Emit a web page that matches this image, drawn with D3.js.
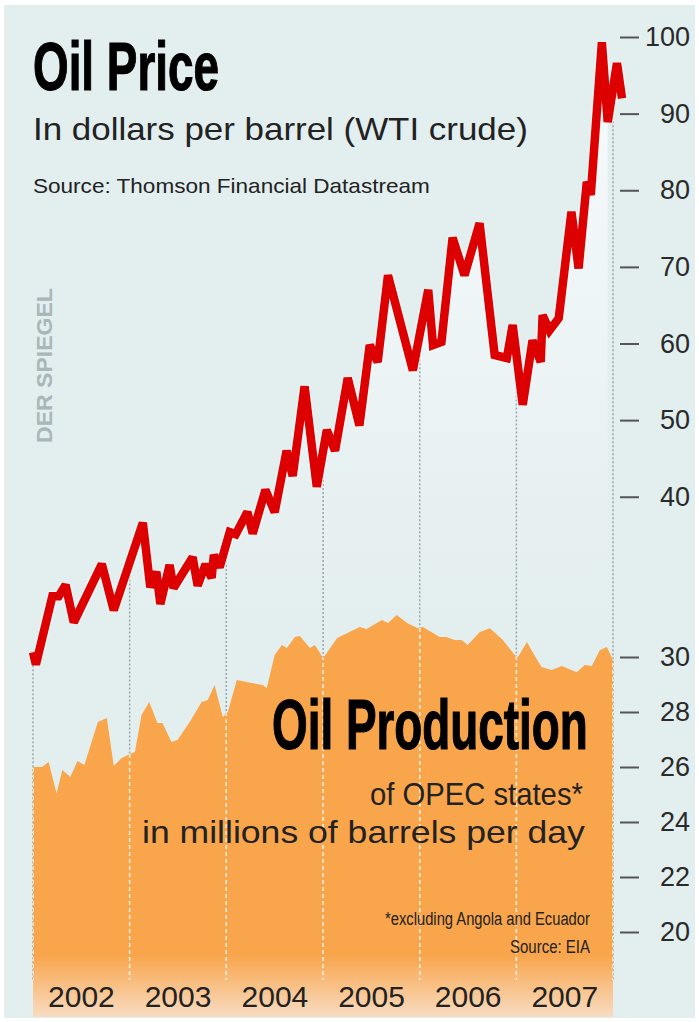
<!DOCTYPE html>
<html>
<head>
<meta charset="utf-8">
<script src="https://cdnjs.cloudflare.com/ajax/libs/d3/7.8.5/d3.min.js"></script>
<style>
  html, body { margin: 0; padding: 0; background: #fff; }
  svg { display: block; }
</style>
</head>
<body>
<svg id="chart" width="699" height="1022"></svg>
<script>

//	oil price, WTI crude, dollars per barrel
var priceDates = ["2002-01-01","2002-01-12","2002-03-15","2002-04-08","2002-05-04","2002-06-04","2002-09-18","2002-11-02",
  "2003-02-20","2003-03-20","2003-04-12","2003-04-27","2003-06-01","2003-06-16","2003-08-27","2003-09-15","2003-10-15","2003-11-07","2003-11-15","2003-12-07",
  "2004-01-14","2004-02-06","2004-03-21","2004-04-10","2004-05-28","2004-07-02","2004-08-16","2004-09-08","2004-10-23","2004-12-08",
  "2005-01-15","2005-02-15","2005-04-04","2005-05-18","2005-06-26","2005-07-26","2005-09-03","2005-12-06",
  "2006-02-02","2006-02-20","2006-03-24","2006-05-05","2006-06-19","2006-08-15","2006-10-11","2006-11-26","2006-12-18",
  "2007-01-25","2007-03-03","2007-04-03","2007-04-10","2007-05-06","2007-06-10","2007-07-28","2007-08-24","2007-09-24","2007-10-09","2007-11-20","2007-12-12",
  "2008-01-16","2008-02-04"];
var priceValues = [19.7,18.1,27.0,27.0,28.5,23.6,31.2,25.2,
  36.6,28.2,30.2,26.0,31.1,28.1,32.1,28.4,31.2,29.4,32.4,30.8,
  35.4,35.1,38.0,35.2,40.9,38.0,46.0,42.7,54.4,41.3,
  48.7,46.0,55.5,49.3,59.8,57.6,68.9,56.5,
  67.0,59.8,60.2,73.8,68.9,75.7,58.5,58.1,62.4,
  52.0,60.4,57.6,63.7,61.7,63.3,77.2,69.8,81.1,79.4,99.3,88.9,
  96.6,92.0];

//	OPEC production, millions of barrels per day
var prodDates = ["2002-01-01","2002-02-04","2002-03-01","2002-03-31","2002-04-22","2002-05-22","2002-06-18","2002-07-14","2002-09-03","2002-10-07","2002-11-02","2002-12-02",
  "2003-01-02","2003-01-21","2003-02-15","2003-03-16","2003-04-16","2003-05-05","2003-06-08","2003-07-01","2003-08-16","2003-09-30","2003-10-23","2003-11-18","2003-12-19",
  "2004-01-07","2004-02-10","2004-04-10","2004-05-17","2004-06-02","2004-07-02","2004-07-29","2004-08-17","2004-09-16","2004-10-05","2004-11-12","2004-12-01",
  "2005-01-01","2005-02-23","2005-05-19","2005-06-14","2005-08-11","2005-09-03","2005-10-06","2005-11-14","2005-12-25",
  "2006-01-13","2006-03-17","2006-04-12","2006-05-12","2006-06-08","2006-07-01","2006-08-16","2006-09-23","2006-11-11","2006-12-26",
  "2007-01-07","2007-02-10","2007-03-03","2007-04-06","2007-05-14","2007-06-21","2007-08-17","2007-09-16","2007-10-13","2007-11-12","2007-12-09",
  "2008-01-01"];
var prodValues = [26.0,26.0,26.18,25.05,25.89,25.64,26.22,26.07,27.64,27.78,26.04,26.33,
  26.47,26.55,27.89,28.36,27.6,27.6,26.91,26.98,27.64,28.36,28.44,28.98,27.82,
  28.0,29.16,29.05,28.98,28.87,30.07,30.44,30.33,30.73,30.76,30.33,30.44,
  29.96,30.69,31.09,31.02,31.35,31.24,31.53,31.24,31.05,
  31.09,30.73,30.73,30.62,30.62,30.44,30.91,31.05,30.62,30.07,
  30.0,30.55,30.18,29.64,29.53,29.67,29.45,29.71,29.67,30.25,30.36,
  29.89];

var priceTicks = [40, 50, 60, 70, 80, 90, 100];
var prodTicks = [20, 22, 24, 26, 28, 30];
var yearLabels = ["2002", "2003", "2004", "2005", "2006", "2007"];
var gridYears = ["2002", "2003", "2004", "2005", "2006", "2007", "2008"];

var parse = d3.timeParse("%Y-%m-%d");
var price = priceDates.map(function(d, i) { return {date: parse(d), value: priceValues[i]}; });
var prod = prodDates.map(function(d, i) { return {date: parse(d), value: prodValues[i]}; });

var narrow = "'Liberation Sans Narrow', 'Liberation Sans', Arial, sans-serif";
var plain = "'Liberation Sans', Arial, sans-serif";

const svg = d3.select("#chart"),
  bottom = 1017;

const x = d3.scaleTime()
  .domain([parse("2002-01-01"), parse("2008-01-01")])
  .range([33, 613]);
const yPrice = d3.scaleLinear().domain([20, 100]).range([650, 37]);
const yProd = d3.scaleLinear().domain([20, 30]).range([932, 657]);

//	gradients + clip
var defs = svg.append("defs");
var g1 = defs.append("linearGradient").attr("id", "under")
  .attr("gradientUnits", "userSpaceOnUse").attr("x1", 0).attr("y1", 40).attr("x2", 0).attr("y2", 620);
g1.append("stop").attr("offset", "0%").attr("stop-color", "#f7fbfc");
g1.append("stop").attr("offset", "100%").attr("stop-color", "#e3eeef");
var g2 = defs.append("linearGradient").attr("id", "orange")
  .attr("gradientUnits", "userSpaceOnUse").attr("x1", 0).attr("y1", 955).attr("x2", 0).attr("y2", bottom);
g2.append("stop").attr("offset", "0%").attr("stop-color", "#f9a54b");
g2.append("stop").attr("offset", "100%").attr("stop-color", "#f8dcc2");

var prodArea = d3.area()
  .x(d => x(d.date))
  .y0(bottom)
  .y1(d => yProd(d.value));
defs.append("clipPath").attr("id", "prodClip")
  .append("path").attr("d", prodArea(prod));

//	panel
svg.append("rect")
  .attr("x", 4).attr("y", 5)
  .attr("width", 691).attr("height", bottom - 4)
  .attr("fill", "#e3eeef");

//	light area under the price line
var priceArea = d3.area()
  .x(d => x(d.date))
  .y0(bottom)
  .y1(d => yPrice(d.value));
svg.append("path")
  .attr("d", priceArea(price.filter(d => d.date <= parse("2008-01-01"))))
  .attr("fill", "url(#under)");

//	interpolated price at a date, for the grid line tops
function priceAt(date) {
  var i = d3.bisector(d => d.date).left(price, date);
  if (i <= 0) return price[0].value;
  if (i >= price.length) return price[price.length - 1].value;
  var a = price[i - 1], b = price[i];
  var t = (date - a.date) / (b.date - a.date);
  return a.value + t * (b.value - a.value);
}

var grid = gridYears.map(y => parse(y + "-01-01"));

svg.append("g")
  .selectAll("line")
  .data(grid)
  .enter().append("line")
    .attr("x1", d => x(d)).attr("x2", d => x(d))
    .attr("y1", d => yPrice(priceAt(d)) + 5)
    .attr("y2", 980)
    .attr("stroke", "#9aa6a9")
    .attr("stroke-width", 1.5)
    .attr("stroke-dasharray", "2,2");

//	production area
svg.append("path")
  .attr("d", prodArea(prod))
  .attr("fill", "url(#orange)");

svg.append("g")
  .attr("clip-path", "url(#prodClip)")
  .selectAll("line")
  .data(grid)
  .enter().append("line")
    .attr("x1", d => x(d)).attr("x2", d => x(d))
    .attr("y1", 600)
    .attr("y2", 980)
    .attr("stroke", "#fff")
    .attr("stroke-opacity", 0.85)
    .attr("stroke-width", 1.5)
    .attr("stroke-dasharray", "4,3");

//	price line
var line = d3.line()
  .x(d => x(d.date))
  .y(d => yPrice(d.value));

svg.append("path")
  .attr("d", line(price))
  .attr("fill", "none")
  .attr("stroke", "#fff")
  .attr("stroke-opacity", 0.6)
  .attr("stroke-width", 11)
  .attr("stroke-linejoin", "miter")
  .attr("stroke-miterlimit", 2);

svg.append("path")
  .attr("d", line(price))
  .attr("fill", "none")
  .attr("stroke", "#dc0000")
  .attr("stroke-width", 8.5)
  .attr("stroke-linejoin", "miter")
  .attr("stroke-miterlimit", 2);

//	texts: drawn at natural size, then squeezed to the width seen in the chart
function label(txt, x0, y0, size, len, opts) {
  opts = opts || {};
  var t = svg.append("text")
    .attr("font-family", opts.family || narrow)
    .attr("font-size", size)
    .attr("font-weight", opts.weight || "normal")
    .attr("fill", opts.fill || "#1e1e1e")
    .text(txt);
  if (opts.stroke) t.attr("stroke", opts.fill || "#000").attr("stroke-width", opts.stroke);
  var w = t.node().getComputedTextLength();
  var rot = opts.rotate ? " rotate(" + opts.rotate + ")" : "";
  t.attr("transform", "translate(" + x0 + "," + y0 + ")" + rot + " scale(" + (len / w) + ",1)");
  return t;
}

label("Oil Price", 33, 90, 68, 186, {weight: "bold", fill: "#000", stroke: 1.2});
label("In dollars per barrel (WTI crude)", 33, 140, 32, 495, {family: plain, fill: "#222"});
label("Source: Thomson Financial Datastream", 33, 193, 21, 397, {fill: "#222"});

label("Oil Production", 272, 749, 70, 316, {weight: "bold", fill: "#000", stroke: 1.2});
label("of OPEC states*", 370, 805, 32, 213, {family: plain, fill: "#222"});
label("in millions of barrels per day", 142, 843, 32, 443, {family: plain, fill: "#222"});
label("*excluding Angola and Ecuador", 385, 925, 19, 205, {fill: "#222"});
label("Source: EIA", 510, 953, 19, 80, {fill: "#222"});

label("DER SPIEGEL", 52, 443, 22, 155, {weight: "bold", fill: "#a9b7ba", rotate: -90});

//	right axes
function rightAxis(scale, ticks) {
  var ax = svg.append("g")
    .attr("transform", "translate(620,0)")
    .call(d3.axisRight(scale).tickValues(ticks).tickSize(19).tickPadding(4));
  ax.select(".domain").remove();
  ax.selectAll(".tick line").attr("stroke", "#555").attr("stroke-width", 2);
  ax.selectAll(".tick text")
    .attr("x", 70)
    .attr("text-anchor", "end")
    .attr("font-family", plain)
    .attr("font-size", 27)
    .attr("fill", "#2a2a2a");
  return ax;
}
rightAxis(yPrice, priceTicks);
rightAxis(yProd, prodTicks);

//	year labels, centred in each year
var axX = svg.append("g")
  .attr("transform", "translate(0,986)")
  .call(d3.axisBottom(x)
    .tickValues(yearLabels.map(y => parse(y + "-07-01")))
    .tickFormat(d3.timeFormat("%Y"))
    .tickSize(0).tickPadding(0));
axX.select(".domain").remove();
axX.selectAll(".tick text")
  .attr("font-family", plain)
  .attr("font-size", 30)
  .attr("fill", "#222");

</script>
</body>
</html>
